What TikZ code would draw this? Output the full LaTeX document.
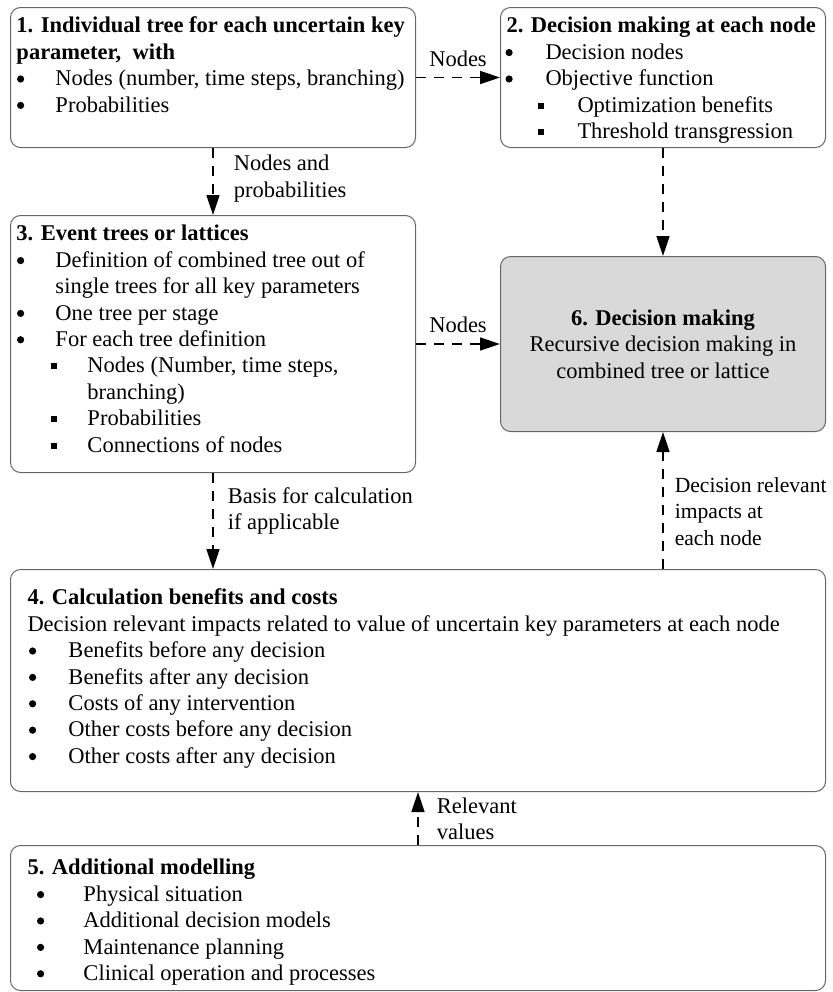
\documentclass[tikz,border=0pt]{standalone}
\usepackage{fontspec}
\setmainfont{Liberation Serif}
\usetikzlibrary{arrows.meta}
\usetikzlibrary{positioning}
\newcommand{\bdot}{\raisebox{1.6pt}{\tikz\fill (0,0) circle (1.8pt);}}
\newcommand{\itm}[2]{\hspace*{#1}\makebox[#2][l]{\bdot}}
\newcommand{\sqitm}[2]{\hspace*{#1}\makebox[#2][l]{\raisebox{1.8pt}{\rule{3pt}{3pt}}}}
\newcommand{\blktext}[4][0pt]{\begin{minipage}[c][#3][t]{#2}\vspace*{#1}%
  \begin{tabular}{@{}l@{}}#4\end{tabular}\end{minipage}}
\tikzset{blk/.style = {draw=black!60, line width=0.5pt, rounded corners=5pt,
                       inner xsep=3pt, inner ysep=3.5pt, anchor=north west,
                       font=\fontsize{11.25}{13.2}\selectfont},
         flow/.style = {draw=black, line width=0.8pt, dash pattern=on 5pt off 4pt,
                        -{Triangle[length=10pt,width=6.5pt]}},
         lbl/.style = {inner sep=0pt, align=left,
                       font=\fontsize{11.25}{13.2}\selectfont}}

\begin{document}
\begin{tikzpicture}[x=0.5pt,y=-0.5pt]
        \useasboundingbox (0,0) rectangle (833,992);
        % boxes
        \node[blk] (b1) at (10,7) {\blktext{196.5pt}{63pt}{%
            \textbf{1. Individual tree for each uncertain key}\\
            \textbf{parameter,\ \ with}\\
            \itm{0.25pt}{19.25pt}Nodes (number, time steps, branching)\\
            \itm{0.25pt}{19.25pt}Probabilities}};
        \node[blk] (b2) at (500,7) {\blktext{156.5pt}{63pt}{%
            \textbf{2. Decision making at each node}\\
            \itm{-0.5pt}{20pt}Decision nodes\\
            \itm{-0.5pt}{20pt}Objective function\\
            \sqitm{15.75pt}{19.75pt}Optimization benefits\\
            \sqitm{15.75pt}{19.75pt}Threshold transgression}};
        \node[blk] (b3) at (10,215) {\blktext{196.5pt}{121.5pt}{%
            \textbf{3. Event trees or lattices}\\
            \itm{0.25pt}{19.25pt}Definition of combined tree out of\\
            \hspace*{19.5pt}single trees for all key parameters\\
            \itm{0.25pt}{19.25pt}One tree per stage\\
            \itm{0.25pt}{19.25pt}For each tree definition\\
            \sqitm{17.25pt}{18.25pt}Nodes (Number, time steps,\\
            \hspace*{35.5pt}branching)\\
            \sqitm{17.25pt}{18.25pt}Probabilities\\
            \sqitm{17.25pt}{18.25pt}Connections of nodes}};
        \node[blk, fill=gray!30, minimum width=162.5pt, minimum height=87.5pt,
              align=center] (b6) at (500,256)
            {\textbf{6. Decision making}\\Recursive decision making in\\combined tree or lattice};
        \node[blk, inner xsep=8.5pt] (b4) at (10,569) {\blktext[5pt]{390.5pt}{104pt}{%
            \textbf{4. Calculation benefits and costs}\\
            Decision relevant impacts related to value of uncertain key parameters at each node\\
            \itm{0.75pt}{19.75pt}Benefits before any decision\\
            \itm{0.75pt}{19.75pt}Benefits after any decision\\
            \itm{0.75pt}{19.75pt}Costs of any intervention\\
            \itm{0.75pt}{19.75pt}Other costs before any decision\\
            \itm{0.75pt}{19.75pt}Other costs after any decision}};
        \node[blk, inner xsep=8.5pt] (b5) at (10,845) {\blktext[2pt]{390.5pt}{65.5pt}{%
            \textbf{5. Additional modelling}\\
            \itm{4.75pt}{23.25pt}Physical situation\\
            \itm{4.75pt}{23.25pt}Additional decision models\\
            \itm{4.75pt}{23.25pt}Maintenance planning\\
            \itm{4.75pt}{23.25pt}Clinical operation and processes}};
        % connectors
        \draw[flow] (b1.east) -- (b2.west) node[lbl, midway, above, yshift=5pt] (n12) {Nodes};
        \draw[flow] (b1.south) -- (b3.north) node[lbl, midway, right, xshift=10pt, yshift=1.5pt] (n13) {Nodes and\\probabilities};
        \draw[flow] (b2.south) -- (b6.north);
        \draw[flow] (b3.east) -- (b6.west) node[lbl, midway, above, yshift=5pt] (n36) {Nodes};
        \draw[flow] (b3.south) -- (b3.south |- b4.north) node[lbl, midway, right, xshift=7pt, yshift=5pt] (n34) {Basis for calculation\\if applicable};
        \draw[flow] (b4.north -| b6.south) -- (b6.south) node[lbl, midway, right, xshift=5.5pt, yshift=-5.5pt, font=\fontsize{10.8}{13.2}\selectfont] (n46) {Decision relevant\\impacts at\\each node};
        \draw[flow] (b5.north) -- (b4.south) node[lbl, midway, right, xshift=9pt] (n54) {Relevant\\values};
    \end{tikzpicture}
\end{document}
